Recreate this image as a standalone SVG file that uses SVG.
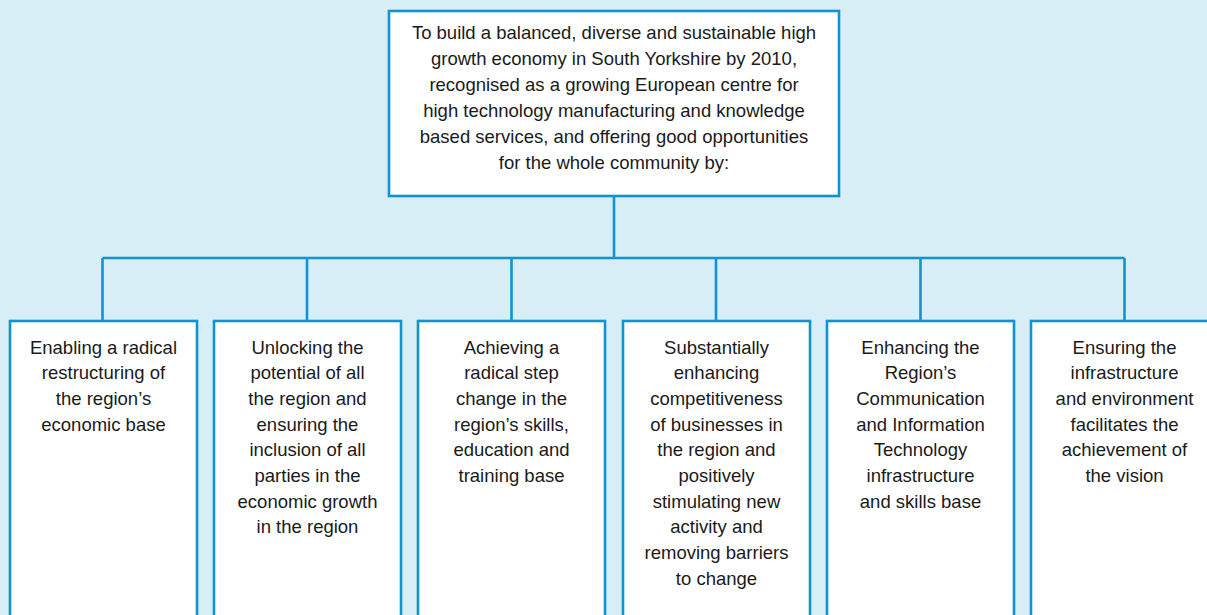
<svg xmlns="http://www.w3.org/2000/svg" width="1207" height="615" viewBox="0 0 1207 615">
<style>
.bg{fill:#d8eef7}
.box{fill:#ffffff;stroke:#0f93d2;stroke-width:2.6}
.wire{fill:none;stroke:#0f93d2;stroke-width:2.6}
text{font-family:"Liberation Sans",Arial,sans-serif;font-size:18.5px;fill:#1a1a1a;text-anchor:middle}
</style>
<rect class="bg" x="0" y="0" width="1207" height="615"/>
<g id="connectors">
<path class="wire" d="M614 197V258M102.5 258H1124.5M102.5 258V321M307 258V321M511.5 258V321M716 258V321M920.5 258V321M1124.5 258V321"/>
</g>
<g id="root">
<rect class="box" x="389" y="11" width="450" height="185"/>
<text x="614" y="39">To build a balanced, diverse and sustainable high</text>
<text x="614" y="65">growth economy in South Yorkshire by 2010,</text>
<text x="614" y="91">recognised as a growing European centre for</text>
<text x="614" y="117">high technology manufacturing and knowledge</text>
<text x="614" y="143">based services, and offering good opportunities</text>
<text x="614" y="169">for the whole community by:</text>
</g>
<g id="n1">
<rect class="box" x="10" y="321" width="187" height="320"/>
<text x="103.5" y="353.5">Enabling a radical</text>
<text x="103.5" y="379.2">restructuring of</text>
<text x="103.5" y="404.9">the region’s</text>
<text x="103.5" y="430.6">economic base</text>
</g>
<g id="n2">
<rect class="box" x="214" y="321" width="187" height="320"/>
<text x="307.5" y="353.5">Unlocking the</text>
<text x="307.5" y="379.2">potential of all</text>
<text x="307.5" y="404.9">the region and</text>
<text x="307.5" y="430.6">ensuring the</text>
<text x="307.5" y="456.3">inclusion of all</text>
<text x="307.5" y="482">parties in the</text>
<text x="307.5" y="507.7">economic growth</text>
<text x="307.5" y="533.4">in the region</text>
</g>
<g id="n3">
<rect class="box" x="418" y="321" width="187" height="320"/>
<text x="511.5" y="353.5">Achieving a</text>
<text x="511.5" y="379.2">radical step</text>
<text x="511.5" y="404.9">change in the</text>
<text x="511.5" y="430.6">region’s skills,</text>
<text x="511.5" y="456.3">education and</text>
<text x="511.5" y="482">training base</text>
</g>
<g id="n4">
<rect class="box" x="623" y="321" width="187" height="320"/>
<text x="716.5" y="353.5">Substantially</text>
<text x="716.5" y="379.2">enhancing</text>
<text x="716.5" y="404.9">competitiveness</text>
<text x="716.5" y="430.6">of businesses in</text>
<text x="716.5" y="456.3">the region and</text>
<text x="716.5" y="482">positively</text>
<text x="716.5" y="507.7">stimulating new</text>
<text x="716.5" y="533.4">activity and</text>
<text x="716.5" y="559.1">removing barriers</text>
<text x="716.5" y="584.8">to change</text>
</g>
<g id="n5">
<rect class="box" x="827" y="321" width="187" height="320"/>
<text x="920.5" y="353.5">Enhancing the</text>
<text x="920.5" y="379.2">Region’s</text>
<text x="920.5" y="404.9">Communication</text>
<text x="920.5" y="430.6">and Information</text>
<text x="920.5" y="456.3">Technology</text>
<text x="920.5" y="482">infrastructure</text>
<text x="920.5" y="507.7">and skills base</text>
</g>
<g id="n6">
<rect class="box" x="1031" y="321" width="187" height="320"/>
<text x="1124.5" y="353.5">Ensuring the</text>
<text x="1124.5" y="379.2">infrastructure</text>
<text x="1124.5" y="404.9">and environment</text>
<text x="1124.5" y="430.6">facilitates the</text>
<text x="1124.5" y="456.3">achievement of</text>
<text x="1124.5" y="482">the vision</text>
</g>
</svg>
